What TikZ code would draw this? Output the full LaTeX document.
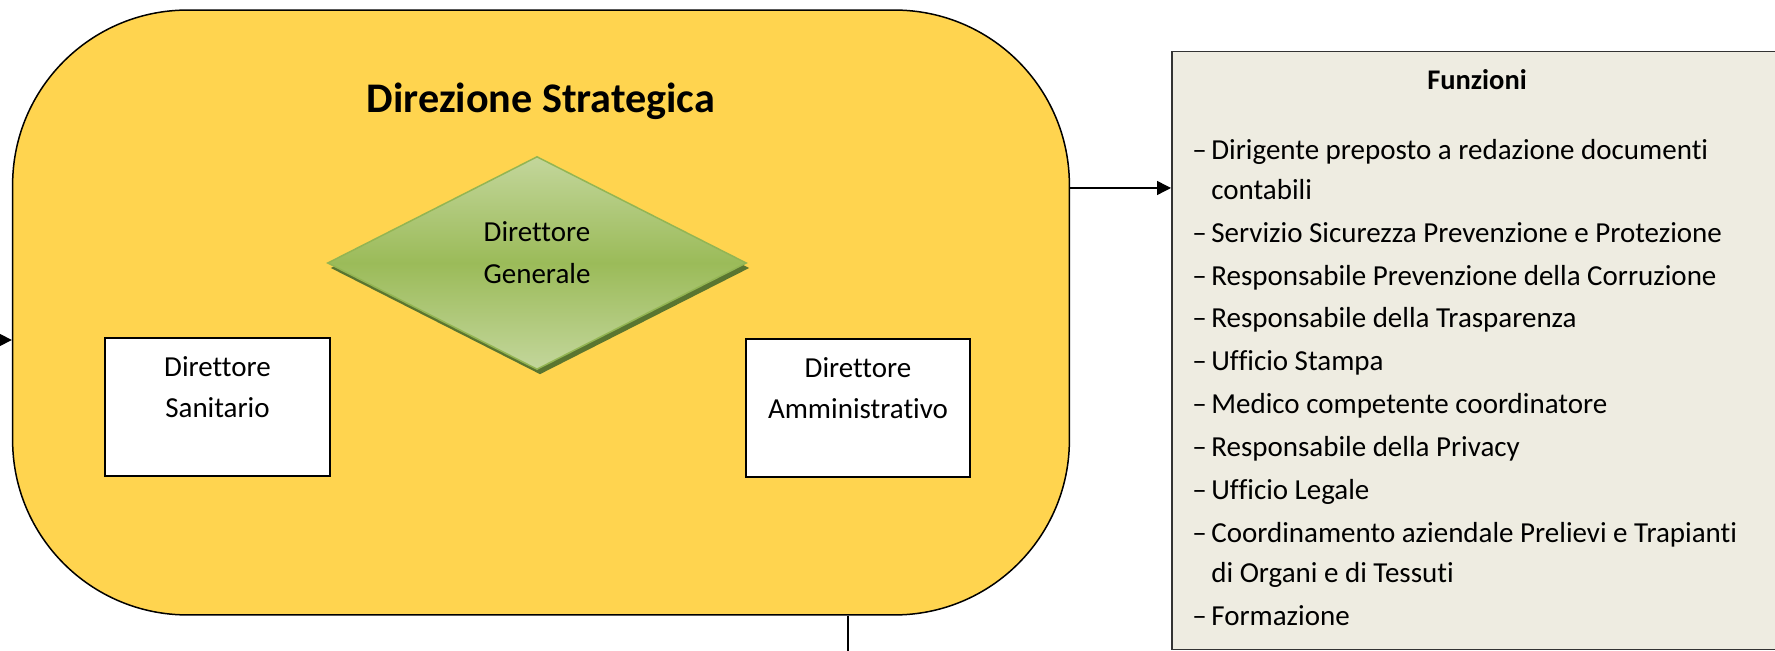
\documentclass[tikz,border=0pt]{standalone}
\usepackage{fontspec}
\setmainfont{Carlito}[Ligatures={NoCommon,NoContextual}]
\usetikzlibrary{shapes.geometric,arrows.meta,positioning,shadows,calc}

\definecolor{dsyellow}{HTML}{FFD44F}
\definecolor{fnbeige}{HTML}{EEECE1}
\definecolor{dglight}{HTML}{C3D69B}
\definecolor{dgdark}{HTML}{9BBB59}
\definecolor{dgline}{HTML}{93B553}
\definecolor{dgshadow}{HTML}{5A7530}

\newcommand{\fitem}[1]{\makebox[0.655em][l]{\textendash}#1}
\newcommand{\fcont}[1]{\hspace*{0.655em}#1}

\begin{document}
\begin{tikzpicture}[
    x=0.02cm, y=-0.02cm,
    >={Triangle[length=0.28cm, width=0.28cm]},
    bigbox/.style={rectangle, draw, line width=0.03cm, fill=dsyellow, rounded corners=3.5cm, minimum width=21.14cm, minimum height=12.1cm},
    dirbox/.style={rectangle, draw, line width=0.04cm, fill=white, minimum width=4.5cm, minimum height=2.76cm},
    boxtext/.style={align=center, font=\fontsize{16.5pt}{23.25pt}\selectfont},
    dgdiamond/.style={diamond, draw=dgline, line width=0.03cm, top color=dglight, bottom color=dglight, middle color=dgdark, minimum width=8.38cm, minimum height=4.26cm, inner sep=0pt, general shadow={fill=dgshadow, shadow xshift=0.06cm, shadow yshift=-0.1cm}},
    fnbox/.style={rectangle, draw=black!80, line width=0.03cm, fill=fnbeige, minimum width=14cm, minimum height=11.96cm, inner sep=0pt, anchor=north west},
    listtext/.style={align=left, inner sep=0pt, font=\fontsize{16.5pt}{22.7pt}\selectfont},
    link/.style={line width=0.028cm}
]
    \useasboundingbox (0,0) rectangle (1775,651);
    \clip (0,0) rectangle (1775,651);

    % funzioni
    \node[fnbox] (fn) at (1171,51) {};
    \node[anchor=base, font=\bfseries\fontsize{16.2pt}{20pt}\selectfont] (fntitle) at (1477,90) {Funzioni};
    \node[listtext, anchor=north west] (fnlist) at (1192,139) {%
        \fitem{Dirigente preposto a redazione documenti}\\
        \fcont{contabili}\\[1.7pt]
        \fitem{Servizio Sicurezza Prevenzione e Protezione}\\[1.7pt]
        \fitem{Responsabile Prevenzione della Corruzione}\\[1.7pt]
        \fitem{Responsabile della Trasparenza}\\[1.7pt]
        \fitem{Ufficio Stampa}\\[1.7pt]
        \fitem{Medico competente coordinatore}\\[1.7pt]
        \fitem{Responsabile della Privacy}\\[1.7pt]
        \fitem{Ufficio Legale}\\[1.7pt]
        \fitem{Coordinamento aziendale Prelievi e Trapianti}\\
        \fcont{di Organi e di Tessuti}\\[1.7pt]
        \fitem{Formazione}};

    % direzione strategica
    \node[bigbox] (ds) at (541,312.5) {};
    \node[anchor=base, font=\bfseries\fontsize{24pt}{28pt}\selectfont] (dstitle) at (541,113) {Direzione Strategica};
    \node[dgdiamond, label={[boxtext, font=\fontsize{16.5pt}{23.8pt}\selectfont, yshift=0.2cm]center:Direttore\\Generale}] (dg) at (537,263) {};
    \node[dirbox, label={[boxtext, yshift=0.4cm]center:Direttore\\Sanitario}] (dsan) at (217.5,407) {};
    \node[dirbox, label={[boxtext, yshift=0.4cm]center:Direttore\\Amministrativo}] (damm) at (858,408) {};

    % collegamenti
    \coordinate (inleft) at (-40,340);
    \coordinate (fnrow) at (1100,188);
    \coordinate (down) at (848,700);
    \draw[link, ->] (inleft) -- (inleft -| ds.west);
    \draw[link, ->] (fnrow -| ds.east) -- (fnrow -| fn.west);
    \draw[link] (down |- ds.south) -- (down);
\end{tikzpicture}
\end{document}
